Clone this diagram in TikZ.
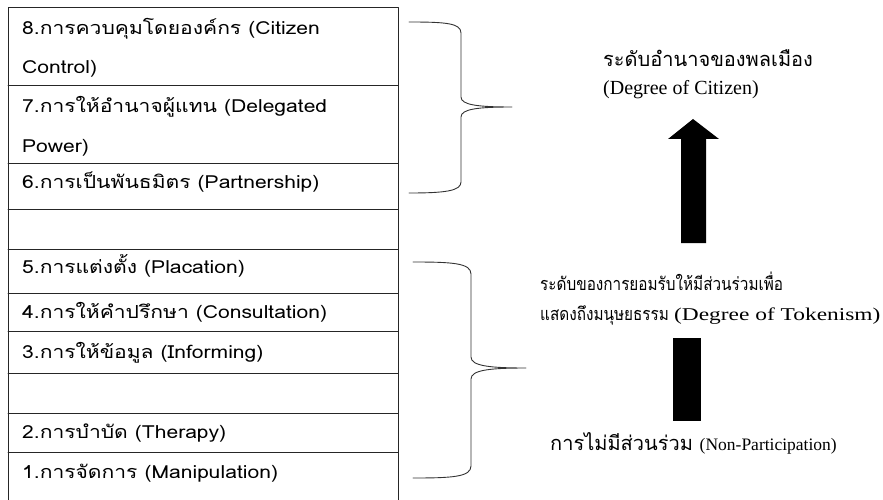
\documentclass[tikz,border=0pt]{standalone}
\usepackage{fontspec}
\newfontfamily\thaifont[Script=Thai]{Loma}
\newfontfamily\thaiwide[Script=Thai,FakeStretch=1.17]{Loma}
\newfontfamily\thainarrow[Script=Thai,FakeStretch=0.85]{Loma}
\newfontfamily\latinserif{Liberation Serif}
\newfontfamily\latinwide[FakeStretch=1.3]{Liberation Serif}
\usetikzlibrary{positioning}
\tikzset{
  every picture/.append style={line cap=round,line join=round},
  ladder line/.style={black!85,line width=0.9pt},
  ladder text/.style={anchor=base west,inner sep=0pt,font=\thaiwide\fontsize{18}{21}\selectfont},
  level brace/.style={black!80,line width=0.9pt},
  level text/.style={anchor=base west,inner sep=0pt,font=\thainarrow\fontsize{18}{21}\selectfont},
  level arrow/.style={fill=black}
}

\begin{document}
\begin{tikzpicture}[x=1pt,y=-1pt]
  \useasboundingbox (0,0) rectangle (883,500);
  % ladder table
  \draw[ladder line] (8,500) -- (8,7) -- (398,7) -- (398,500);
  \foreach \y in {85,163,209,249,293,331,373,413,452}
    \draw[ladder line] (8,\y) -- (398,\y);
  \node[ladder text] (r8a) at (22,35) {8.การควบคุมโดยองค์กร (Citizen};
  \node[ladder text] (r8b) at (22,74) {Control)};
  \node[ladder text] (r7a) at (22,113) {7.การให้อำนาจผู้แทน (Delegated};
  \node[ladder text] (r7b) at (22,152) {Power)};
  \node[ladder text] (r6) at (22,188) {6.การเป็นพันธมิตร (Partnership)};
  \node[ladder text] (r5) at (22,273) {5.การแต่งตั้ง (Placation)};
  \node[ladder text] (r4) at (22,318) {4.การให้คำปรึกษา (Consultation)};
  \node[ladder text] (r3) at (22,358) {3.การให้ข้อมูล (Informing)};
  \node[ladder text] (r2) at (22,438) {2.การบำบัด (Therapy)};
  \node[ladder text] (r1) at (22,478) {1.การจัดการ (Manipulation)};

  % braces
  \coordinate (citizentip) at (512,107);
  \coordinate (tokentip) at (526,368);
  \draw[level brace] (409,22) .. controls (445,22) and (461,23) .. (461,33)
    -- (461,97) .. controls (461,105) and (478,107) .. (citizentip)
    .. controls (478,107) and (461,109) .. (461,117)
    -- (461,182) .. controls (461,191) and (445,193) .. (409,193);
  \draw[level brace] (413,262) .. controls (452,262) and (471,263) .. (471,274)
    -- (471,357) .. controls (471,366) and (490,368) .. (tokentip)
    .. controls (490,368) and (471,370) .. (471,379)
    -- (471,466) .. controls (471,477) and (452,478) .. (413,478);

  % levels
  \node[level text,font=\thaifont\fontsize{20}{24}\selectfont] (citizen) at (603,67) {ระดับอำนาจของพลเมือง};
  \node[level text,font=\latinserif\fontsize{20}{24}\selectfont] (citizenen) at (603,95) {(Degree of Citizen)};
  \node[level text] (tokena) at (540,290) {ระดับของการยอมรับให้มีส่วนร่วมเพื่อ};
  \node[level text] (tokenb) at (540,320) {แสดงถึงมนุษยธรรม {\latinwide\fontsize{18}{21}\selectfont (Degree of Tokenism)}};
  \node[level text,font=\thaifont\fontsize{20}{24}\selectfont] (nonpart) at (550,450) {การไม่มีส่วนร่วม {\latinserif\fontsize{17.5}{21}\selectfont (Non-Participation)}};

  \fill[level arrow] (693,119) -- (719,139) -- (706,139) -- (706,243)
    -- (681,243) -- (681,139) -- (668,139) -- cycle;
  \fill[level arrow] (673,338) rectangle (701,421);
\end{tikzpicture}
\end{document}
